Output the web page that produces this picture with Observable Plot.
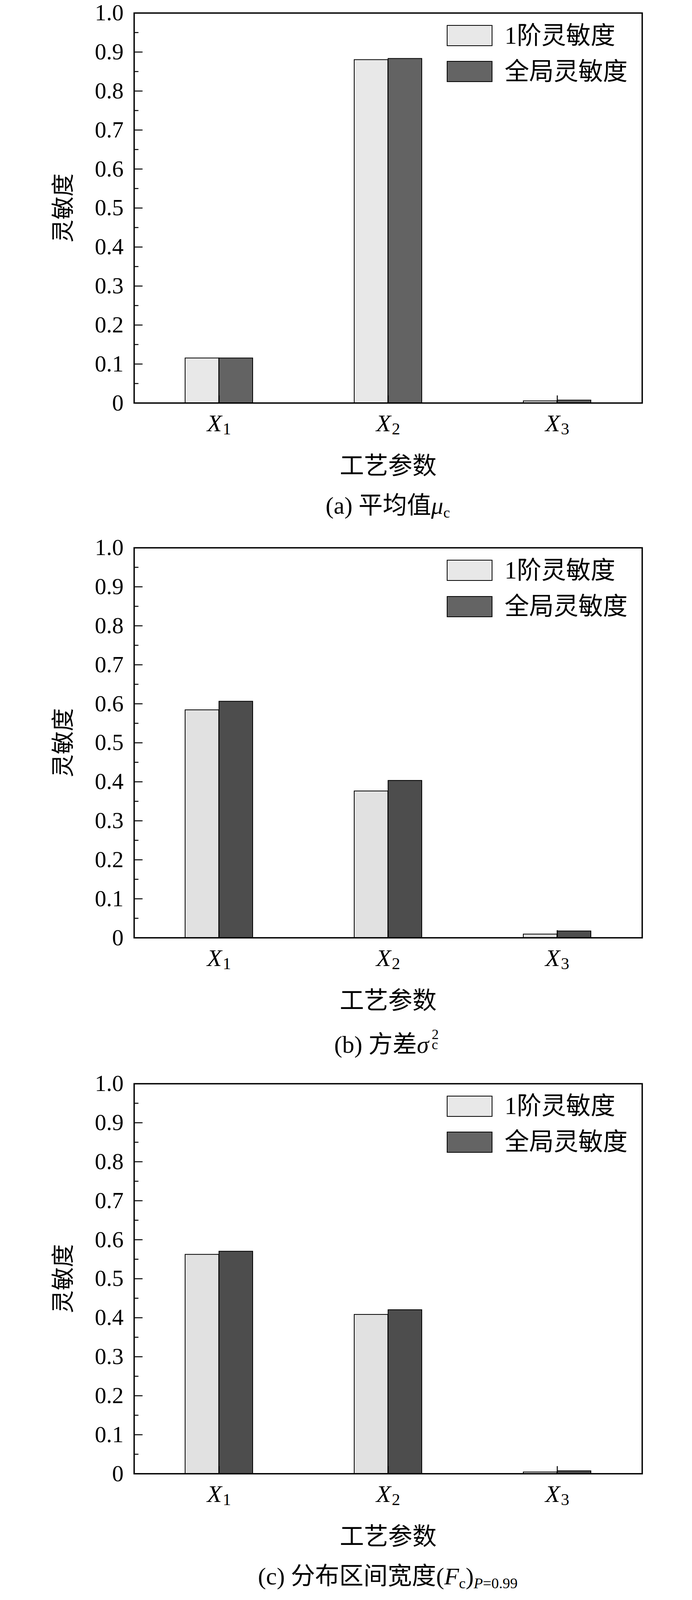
<!DOCTYPE html>
<html><head><meta charset="utf-8">
<script src="https://cdn.jsdelivr.net/npm/d3@7"></script>
<script src="https://cdn.jsdelivr.net/npm/@observablehq/plot@0.6"></script>
<style>
html,body{margin:0;padding:0;background:#fff;overflow:hidden;}
body{width:1772px;font-family:"Liberation Serif","Noto Sans CJK SC",serif;color:#000;}
.panel{position:relative;width:1772px;overflow:hidden;}
.panel svg{position:absolute;left:0;top:0;}
.cap{position:absolute;left:493px;width:1000px;text-align:center;font-size:62px;line-height:62px;white-space:nowrap;}
.leg{position:absolute;left:1144px;font-size:63px;line-height:63px;}
.row{position:absolute;left:0;display:flex;align-items:center;white-space:nowrap;}
.sw{width:113px;height:50px;border:2px solid #000;margin-right:31px;flex:none;}
i{font-style:italic;}
.stk{position:relative;display:inline-block;width:0.4em;height:1em;margin-left:0.12em;}
.stk span{position:absolute;left:0;font-size:0.58em;line-height:0.8;}
sub{font-size:0.62em;vertical-align:-0.25em;line-height:0;}
</style></head><body><div id="root"></div>
<script>
// ---- data ----
const params = ["X1", "X2", "X3"];
const seriesNames = ["1阶灵敏度", "全局灵敏度"];
const firstOrderA = [0.115, 0.880, 0.005];
const globalA     = [0.115, 0.883, 0.007];
const firstOrderB = [0.584, 0.376, 0.009];
const globalB     = [0.606, 0.403, 0.017];
const firstOrderC = [0.562, 0.408, 0.004];
const globalC     = [0.570, 0.420, 0.007];
const yTicks = [0, 0.1, 0.2, 0.3, 0.4, 0.5, 0.6, 0.7, 0.8, 0.9, 1.0];
const yMinorTicks = [0.05, 0.15, 0.25, 0.35, 0.45, 0.55, 0.65, 0.75, 0.85, 0.95];
const yLabel = "灵敏度";
const xLabel = "工艺参数";
const captions = [
  '(a) 平均值<i>μ</i><sub>c</sub>',
  '(b) 方差<i>σ</i><span class="stk"><span style="top:0.04em">2</span><span style="top:0.76em">c</span></span>',
  '(c) 分布区间宽度(<i>F</i><sub>c</sub>)<sub><i>P</i>=0.99</sub>'
];

// ---- layout (the viewport is 4096 px tall, so vertical distances are scaled by k) ----
const k = 4096 / 4361;
const W = 1772;
const mL = 343, mR = 128;
const mT = 35 * k;
const baseY = 1098 * k;
const SVGH = Math.round(1320 * k);
const mB = SVGH - baseY;
const pIn = 0.6, pOut = 0.3;
const bw = (W - mL - mR) / (params.length - pIn + 2 * pOut) * (1 - pIn);
const FONT = '"Liberation Serif","Noto Sans CJK SC",serif';
const panelH = [1458 * k, 1460 * k, 4096 - 1458 * k - 1460 * k];

const panels = [
  {first: firstOrderA, global: globalA, light: "#e8e8e8", dark: "#636363"},
  {first: firstOrderB, global: globalB, light: "#e1e1e1", dark: "#4d4d4d"},
  {first: firstOrderC, global: globalC, light: "#e1e1e1", dark: "#4d4d4d"}
];

const root = document.getElementById("root");
panels.forEach((p, i) => {
  const d1 = params.map((key, j) => ({param: key, value: p.first[j]}));
  const d2 = params.map((key, j) => ({param: key, value: p.global[j]}));
  const chart = Plot.plot({
    width: W, height: SVGH,
    marginLeft: mL, marginRight: mR, marginTop: mT, marginBottom: mB,
    style: {fontFamily: FONT, color: "#000", background: "#fff", overflow: "visible"},
    x: {type: "band", domain: params, paddingInner: pIn, paddingOuter: pOut},
    y: {domain: [0, 1]},
    marks: [
      Plot.barY(d1, {x: "param", y: "value", fill: p.light, stroke: "#000", strokeWidth: 2, insetRight: bw / 2}),
      Plot.barY(d2, {x: "param", y: "value", fill: p.dark, stroke: "#000", strokeWidth: 2, insetLeft: bw / 2}),
      Plot.axisY({ticks: yMinorTicks, tickSize: -11.5, tickFormat: () => "", label: null, strokeWidth: 2.5}),
      Plot.axisY({ticks: yTicks, tickSize: -22, tickFormat: () => "", label: null, strokeWidth: 2.5}),
      Plot.axisY({ticks: yTicks, tickSize: 0, tickPadding: 27, fontSize: 59, fontFamily: FONT,
        tickFormat: d => d === 0 ? "0" : d.toFixed(1),
        label: yLabel, labelArrow: "none", labelAnchor: "center", labelOffset: 203}),
      Plot.axisX({tickSize: -19, tickFormat: () => "", label: null, strokeWidth: 2.5}),
      Plot.axisX({tickSize: 0, tickPadding: 28, fontSize: 62, fontFamily: FONT, tickFormat: d => d,
        label: xLabel, labelArrow: "none", labelAnchor: "center", labelOffset: 182}),
      Plot.frame({stroke: "#000", strokeWidth: 3.5})
    ]
  });
  // italic X with subscript index
  d3.select(chart).selectAll('g[aria-label="x-axis tick label"] text').each(function () {
    const t = this.textContent;
    if (!/^X\d$/.test(t)) return;
    const sel = d3.select(this);
    sel.text(null);
    sel.append("tspan").attr("font-style", "italic").text("X");
    sel.append("tspan").attr("font-size", 43).attr("dy", 8).attr("dx", 2).text(t.slice(1));
  });
  const div = document.createElement("div");
  div.className = "panel";
  div.style.height = panelH[i] + "px";
  div.appendChild(chart);
  const leg = document.createElement("div");
  leg.className = "leg";
  leg.style.top = "0px";
  leg.innerHTML =
    `<div class="row" style="top:${mT + 31.6 * k - 3}px"><div class="sw" style="background:#e8e8e8"></div><span>${seriesNames[0]}</span></div>` +
    `<div class="row" style="top:${mT + 129.7 * k - 3}px"><div class="sw" style="background:#646464"></div><span>${seriesNames[1]}</span></div>`;
  div.appendChild(leg);
  const cap = document.createElement("div");
  cap.className = "cap";
  cap.style.top = (1378 * k - 31) + "px";
  cap.innerHTML = captions[i];
  div.appendChild(cap);
  root.appendChild(div);
});
</script>
</body></html>
